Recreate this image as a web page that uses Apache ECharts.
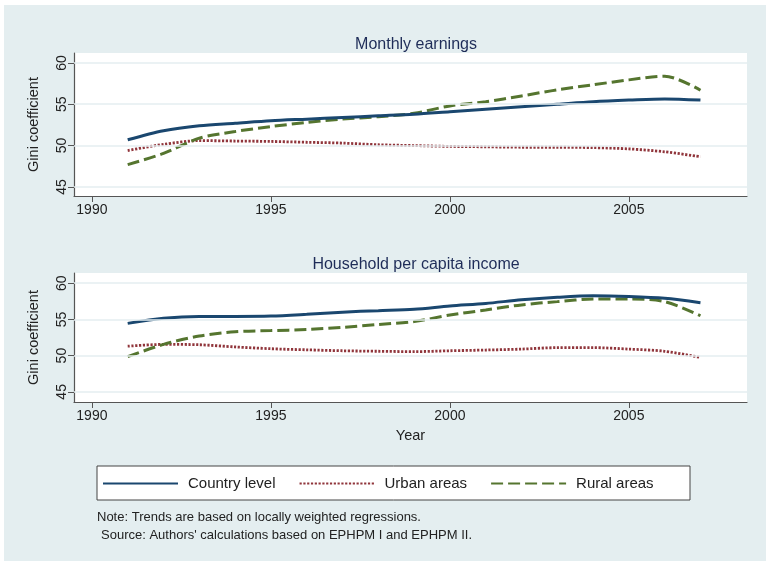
<!DOCTYPE html>
<html>
<head>
<meta charset="utf-8">
<script src="https://cdn.jsdelivr.net/npm/echarts@6/dist/echarts.min.js"></script>
<style>
  html, body { margin: 0; padding: 0; background: #fff; }
  #chart { width: 766px; height: 561px; }
</style>
</head>
<body>
<div id="chart"></div>
<script>
// years of the lowess trends
var years = [1991, 1992, 1993, 1994, 1995, 1996, 1997, 1998, 1999, 2000, 2001, 2002, 2003, 2004, 2005, 2006, 2007];

// Monthly earnings
var earnCountry = [50.7, 51.8, 52.4, 52.7, 53.0, 53.2, 53.4, 53.6, 53.8, 54.1, 54.4, 54.7, 55.0, 55.3, 55.5, 55.65, 55.5];
var earnUrban   = [49.4, 50.15, 50.6, 50.55, 50.5, 50.4, 50.3, 50.1, 50.0, 49.9, 49.85, 49.8, 49.8, 49.75, 49.6, 49.25, 48.65];
var earnRural   = [47.7, 49.05, 50.9, 51.7, 52.3, 52.8, 53.2, 53.5, 53.9, 54.8, 55.3, 56.0, 56.75, 57.35, 57.95, 58.4, 56.7];

// Household per capita income
var incCountry = [54.45, 55.15, 55.4, 55.4, 55.45, 55.7, 56.0, 56.2, 56.4, 56.85, 57.2, 57.7, 58.05, 58.25, 58.15, 57.9, 57.3];
var incUrban   = [51.3, 51.55, 51.5, 51.2, 50.95, 50.8, 50.67, 50.6, 50.55, 50.67, 50.77, 50.9, 51.1, 51.1, 50.9, 50.6, 49.75];
var incRural   = [49.85, 51.55, 52.7, 53.3, 53.45, 53.6, 53.9, 54.3, 54.7, 55.6, 56.3, 57.0, 57.45, 57.8, 57.8, 57.45, 55.5];

var xTicks = [1990, 1995, 2000, 2005];
var yTicks = [45, 50, 55, 60];

var seriesNames = ['Country level', 'Urban areas', 'Rural areas'];
var panelTitles = ['Monthly earnings', 'Household per capita income'];

var navy = '#1a476f', maroon = '#90353b', green = '#55752f';
var bg = '#e4eef0';
var font = 'Liberation Sans';

function pairs(vals) {
  return years.map(function (y, i) { return [y, vals[i]]; });
}

function xAxis(idx, name) {
  return {
    type: 'value', gridIndex: idx, min: 1989.5, max: 2008.3,
    name: name || '', nameLocation: 'middle', nameGap: 26,
    nameTextStyle: { fontFamily: font, fontSize: 14.5, color: '#222' },
    axisLine: { lineStyle: { color: '#555', width: 1.2 } },
    axisTick: { length: 6, customValues: xTicks, lineStyle: { color: '#555' } },
    axisLabel: { customValues: xTicks, formatter: function (v) { return String(v); },
      fontFamily: font, fontSize: 14, color: '#222', margin: 7 },
    splitLine: { show: false }
  };
}

function yAxis(idx, min, max) {
  return {
    type: 'value', gridIndex: idx, min: min, max: max,
    name: 'Gini coefficient', nameLocation: 'middle', nameGap: 33, nameRotate: 90,
    nameTextStyle: { fontFamily: font, fontSize: 14.5, color: '#222' },
    axisLine: { show: true, lineStyle: { color: '#555', width: 1.2 } },
    axisTick: { show: true, length: 6, customValues: yTicks, lineStyle: { color: '#555' } },
    axisLabel: { customValues: yTicks, rotate: 90, fontFamily: font, fontSize: 14, color: '#222', margin: 5 },
    splitLine: { show: false }
  };
}

function gridLines() {
  return {
    silent: true, symbol: 'none', label: { show: false },
    lineStyle: { color: bg, width: 1.5, type: 'solid' },
    data: yTicks.map(function (v) { return { yAxis: v }; })
  };
}

function line(name, idx, vals, color, width, type, withGrid) {
  var s = {
    name: name, type: 'line', xAxisIndex: idx, yAxisIndex: idx,
    data: pairs(vals), showSymbol: false, symbol: 'none', smooth: 0.3,
    lineStyle: { color: color, width: width, type: type },
    itemStyle: { color: color },
    z: 3
  };
  if (withGrid) s.markLine = gridLines();
  return s;
}

var chart = echarts.init(document.getElementById('chart'));
chart.setOption({
  backgroundColor: '#ffffff',
  animation: false,
  title: [
    { text: panelTitles[0], left: 411, top: 32, textAlign: 'center',
      textStyle: { fontFamily: font, fontSize: 16, fontWeight: 'normal', color: '#1e2c58' } },
    { text: panelTitles[1], left: 411, top: 252, textAlign: 'center',
      textStyle: { fontFamily: font, fontSize: 16, fontWeight: 'normal', color: '#1e2c58' } }
  ],
  graphic: [
    { type: 'rect', z: -10, shape: { x: 4, y: 5, width: 762, height: 556 }, style: { fill: bg } },
    { type: 'rect', z: 1, shape: { x: 97, y: 466, width: 593, height: 34 },
      style: { fill: '#fff', stroke: '#444', lineWidth: 1 } },
    { type: 'text', left: 97, top: 511, z: 2,
      style: { text: 'Note: Trends are based on locally weighted regressions.', font: '13px "Liberation Sans"', fill: '#222' } },
    { type: 'text', left: 101, top: 529, z: 2,
      style: { text: "Source: Authors' calculations based on EPHPM I and EPHPM II.", font: '13px "Liberation Sans"', fill: '#222' } }
  ],
  legend: {
    data: seriesNames, left: 102, top: 476, z: 5, padding: 0,
    itemWidth: 75, itemHeight: 14, itemGap: 23,
    itemStyle: { opacity: 0 },
    textStyle: { fontFamily: font, fontSize: 15, color: '#222', padding: [0, 0, 0, 5] }
  },
  grid: [
    { left: 74, right: 19, top: 53, height: 143, show: true, backgroundColor: '#fff', borderWidth: 0 },
    { left: 74, right: 19, top: 273, height: 129, show: true, backgroundColor: '#fff', borderWidth: 0 }
  ],
  xAxis: [xAxis(0), xAxis(1, 'Year')],
  yAxis: [yAxis(0, 43.9, 61.2), yAxis(1, 43.6, 61.4)],
  series: [
    line(seriesNames[1], 0, earnUrban, maroon, 2.8, [2.2, 1.6], true),
    line(seriesNames[2], 0, earnRural, green, 3, [12, 5]),
    line(seriesNames[0], 0, earnCountry, navy, 3, 'solid'),
    line(seriesNames[1], 1, incUrban, maroon, 2.8, [2.2, 1.6], true),
    line(seriesNames[2], 1, incRural, green, 3, [12, 5]),
    line(seriesNames[0], 1, incCountry, navy, 3, 'solid')
  ]
});
</script>
</body>
</html>
